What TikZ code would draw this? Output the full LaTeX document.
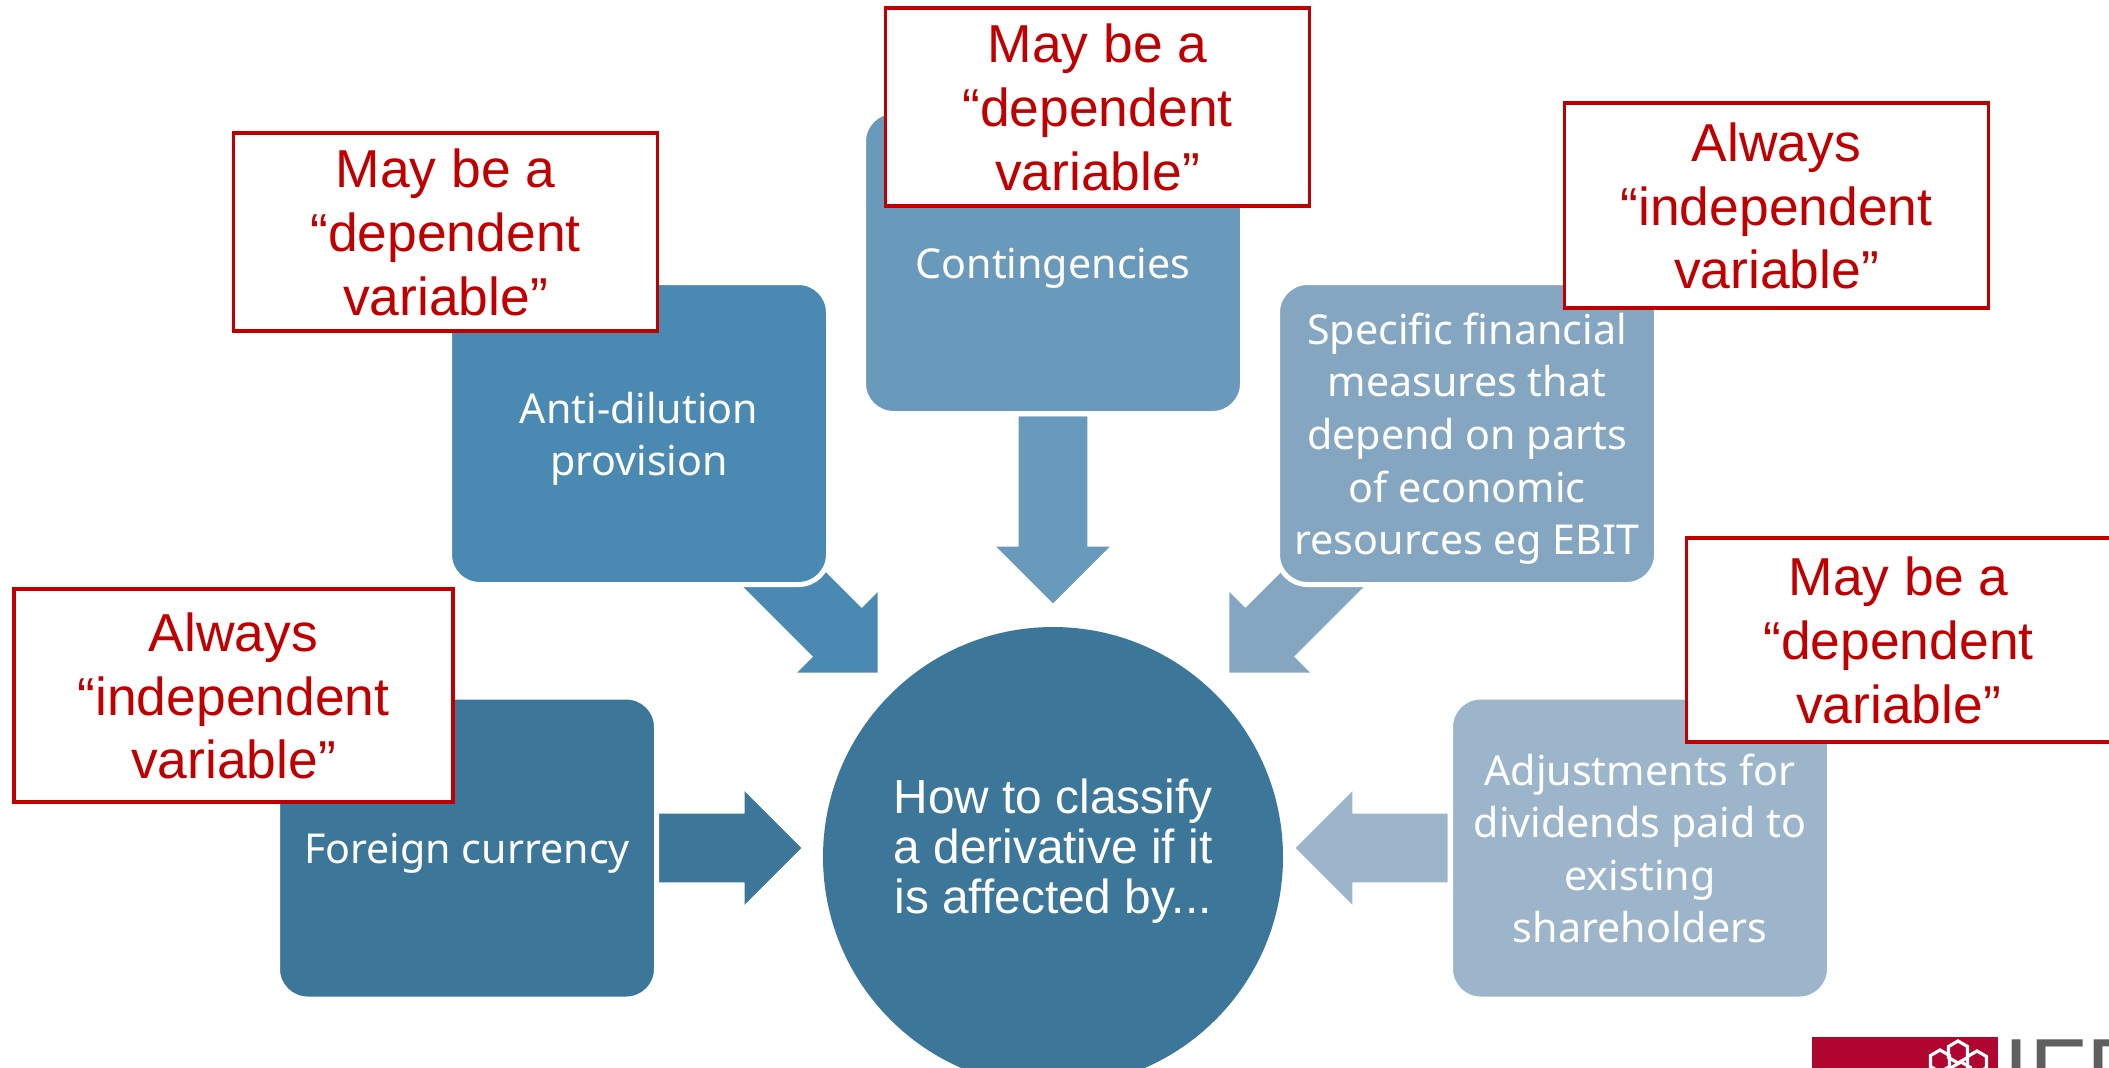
\documentclass[tikz,border=0pt]{standalone}
\usepackage{fontspec}
\setmainfont{Liberation Sans}
\newfontfamily\boxfont{Noto Sans}
\usetikzlibrary{shapes.arrows}
\usetikzlibrary{shapes.geometric}

\definecolor{topicA}{HTML}{3C7699}
\definecolor{topicB}{HTML}{4A89B1}
\definecolor{topicC}{HTML}{6A9ABB}
\definecolor{topicD}{HTML}{85A6C1}
\definecolor{topicE}{HTML}{9DB5CB}
\definecolor{noteRed}{HTML}{C00000}
\definecolor{logoRed}{HTML}{B0052F}
\definecolor{logoGrey}{HTML}{5F5F5F}

\tikzset{
    topic/.style={draw=white, line width=2.5pt, rounded corners=15pt, minimum width=189.5pt, minimum height=151pt,
        text=white, align=flush center, text width=185pt, inner sep=0pt, font=\boxfont\fontsize{20.6}{26.3}\selectfont,
        execute at begin node={\rule{0pt}{23.8pt}}, execute at end node=\strut},
    note/.style={draw=noteRed, fill=white, line width=1.7pt, minimum width=212pt, text width=205pt, inner sep=0pt,
        text=noteRed, align=flush center, font=\fontsize{26.7}{31.8}\selectfont,
        execute at begin node={\rule{0pt}{27.4pt}}, execute at end node={\rule[-7.9pt]{0pt}{7.9pt}}},
    blockarrow/.style={single arrow, single arrow head extend=11.25pt, inner xsep=0pt, inner ysep=17pt, anchor=tip},
    hexring/.style={regular polygon, regular polygon sides=6, shape border rotate=30, draw=white, line width=1.6pt, minimum size=11pt, inner sep=0pt}
}

\begin{document}
\begin{tikzpicture}[x=0.5pt,y=-0.5pt]
        \clip (0,0) rectangle (2109,1067);

        \node (arrowA) at (802,848) [blockarrow, minimum height=71.5pt, fill=topicA] {};
        \node (arrowB) at (878,673) [blockarrow, minimum height=93.5pt, rotate=-45, fill=topicB] {};
        \node (arrowC) at (1053,604) [blockarrow, minimum height=93.5pt, rotate=-90, fill=topicC] {};
        \node (arrowD) at (1229,673) [blockarrow, minimum height=93.5pt, rotate=-135, fill=topicD] {};
        \node (arrowE) at (1295,848) [blockarrow, minimum height=76pt, rotate=180, fill=topicE] {};

        \node (hub) at (1053,857) [circle, fill=topicA, minimum size=230pt, inner sep=0pt] {};
        \node (hubText) at (1053,851) [text=white, align=flush center, inner sep=0pt,
            font=\fontsize{23.9}{24.9}\selectfont] {How to classify\\a derivative if it\\is affected by...};

        \node (foreign) at (467,848) [topic, fill=topicA] {Foreign currency};
        \node (dilution) at (639,433.5) [topic, fill=topicB] {Anti-dilution\\provision};
        \node (contingency) at (1053,262.5) [topic, fill=topicC] {Contingencies};
        \node (measures) at (1467,433.5) [topic, fill=topicD] {Specific financial\\measures that\\depend on parts\\of economic\\resources eg EBIT};
        \node (dividends) at (1640,848) [topic, fill=topicE] {Adjustments for\\dividends paid to\\existing\\shareholders};

        \node (noteA) at (233.5,695.5) [note, minimum height=106.5pt, minimum width=219.5pt] {Always\\“independent\\variable”};
        \node (noteB) at (445.5,232) [note, minimum height=99pt] {May be a\\“dependent\\variable”};
        \node (noteC) at (1097.5,107) [note, minimum height=99pt] {May be a\\“dependent\\variable”};
        \node (noteD) at (1776.5,205.5) [note, minimum height=102.5pt] {Always\\“independent\\variable”};
        \node (noteE) at (1898.5,640) [note, minimum height=102pt] {May be a\\“dependent\\variable”};

        \node (logoBox) at (1905,1090) [fill=logoRed, minimum width=93pt, minimum height=53pt, inner sep=0pt] {};
        \node (hexA) at (1958,1052) [hexring] {};
        \node (hexB) at (1940,1061) [hexring] {};
        \node (hexC) at (1977,1062) [hexring] {};
        \node (hexD) at (1961,1073) [hexring] {};
        \node (logoText) at (2003,1104) [anchor=base west, inner sep=0pt, text=logoGrey, font=\fontsize{47}{47}\selectfont] {IFR};
    \end{tikzpicture}
\end{document}
